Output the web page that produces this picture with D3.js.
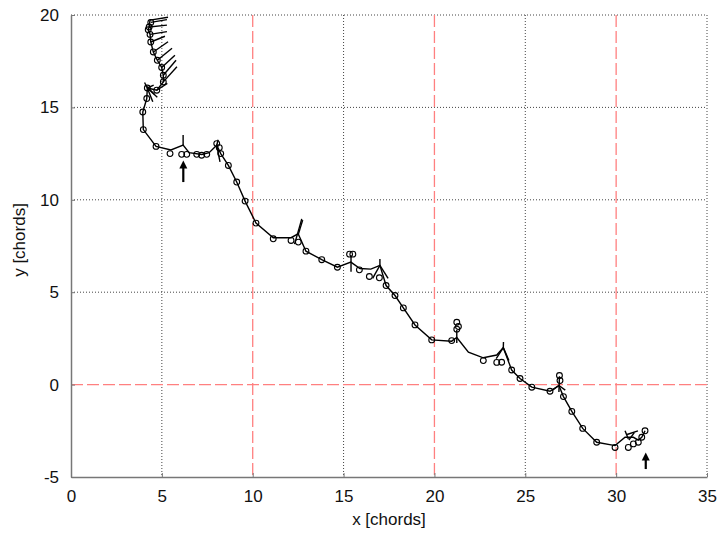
<!DOCTYPE html>
<html>
<head>
<meta charset="utf-8">
<script src="https://cdn.jsdelivr.net/npm/d3@7"></script>
<style>
	body { margin: 0; background: #fff; }
	text { font-family: "Liberation Sans", Arial, sans-serif; fill: #111; }
</style>
</head>
<body>
<svg id="track" width="718" height="533"></svg>
<script>
// axis ticks
const xTicks = [0, 5, 10, 15, 20, 25, 30, 35];
const yTicks = [-5, 0, 5, 10, 15, 20];
const redX = [10, 20, 30];
const redY = [0];

// vortex path (x, y in chords)
const pathPts = [
	[4.35, 19.75], [4.3, 19.35], [4.25, 19.2], [4.35, 18.95], [4.39, 18.54],
	[4.53, 18.0], [4.75, 17.55], [4.99, 17.16], [5.08, 16.74], [5.08, 16.38],
	[4.72, 15.93], [4.2, 16.05], [4.17, 15.48], [3.95, 14.75], [3.98, 13.8],
	[4.68, 12.89], [5.5, 12.7], [6.17, 12.96], [6.5, 12.55], [7.2, 12.45],
	[7.6, 12.55], [8.02, 12.95], [8.24, 12.5], [8.66, 11.86], [9.12, 10.96],
	[9.58, 9.93], [10.18, 8.74], [11.13, 7.95], [12.11, 7.95], [12.5, 8.16],
	[12.93, 7.22], [13.8, 6.76], [14.66, 6.35], [15.4, 6.63], [15.9, 6.28],
	[16.5, 6.25], [17.0, 6.45], [17.34, 5.36], [17.83, 4.82], [18.29, 4.15],
	[18.93, 3.23], [19.85, 2.42], [20.95, 2.35], [21.23, 2.55], [21.87, 1.75],
	[22.69, 1.45], [23.43, 1.6], [23.79, 2.0], [24.25, 0.79], [24.71, 0.33],
	[25.36, -0.14], [26.36, -0.36], [26.85, -0.05], [27.1, -0.65], [27.56, -1.45],
	[28.16, -2.37], [28.93, -3.12], [29.94, -3.3], [30.49, -2.85], [30.95, -2.85],
	[31.22, -3.0], [31.41, -2.85], [31.59, -2.5]
];

// sampled positions drawn as open circles
const circlePts = [
	[4.39, 19.6], [4.3, 19.35], [4.25, 19.2], [4.35, 18.95], [4.39, 18.54],
	[4.53, 18.0], [4.75, 17.55], [4.99, 17.16], [5.08, 16.74], [5.08, 16.38],
	[4.72, 15.93], [4.2, 16.05], [4.17, 15.48], [3.95, 14.75], [3.98, 13.8],
	[4.68, 12.89], [5.45, 12.5], [6.09, 12.46], [6.37, 12.46], [6.92, 12.46],
	[7.19, 12.41], [7.47, 12.46], [8.02, 13.04], [8.16, 12.82], [8.24, 12.5],
	[8.66, 11.86], [9.12, 10.96], [9.58, 9.93], [10.18, 8.74], [11.13, 7.89],
	[12.11, 7.8], [12.51, 7.71], [12.93, 7.22], [13.8, 6.76], [14.66, 6.35],
	[15.33, 7.06], [15.51, 7.06], [15.87, 6.21], [16.42, 5.85], [16.97, 5.78],
	[17.34, 5.36], [17.83, 4.82], [18.29, 4.15], [18.93, 3.23], [19.85, 2.42],
	[20.95, 2.38], [21.23, 3.37], [21.32, 3.14], [21.23, 3.0], [22.69, 1.3],
	[23.43, 1.2], [23.7, 1.21], [24.25, 0.79], [24.71, 0.33], [25.36, -0.14],
	[26.36, -0.36], [26.88, 0.49], [26.91, 0.22], [27.1, -0.65], [27.56, -1.45],
	[28.16, -2.37], [28.93, -3.12], [29.94, -3.4], [30.67, -3.4], [30.95, -3.21],
	[31.22, -3.12], [31.41, -2.85], [31.59, -2.5]
];

// short stick segments [x1, y1, x2, y2]
const whiskers = [
	[4.35, 19.72, 5.34, 19.88], [4.39, 19.6, 5.28, 19.75], [4.3, 19.35, 5.28, 19.45],
	[4.35, 18.95, 5.28, 19.1], [4.39, 18.54, 5.17, 18.85], [4.53, 18.0, 5.34, 18.55],
	[4.75, 17.55, 5.56, 18.2], [4.99, 17.16, 5.72, 17.82], [5.08, 16.74, 5.78, 17.55],
	[5.08, 16.38, 5.83, 17.2], [4.72, 15.93, 5.3, 16.3],
	[4.2, 16.05, 4.75, 15.55], [4.2, 16.05, 4.5, 15.3], [4.2, 16.05, 4.05, 16.35],
	[4.2, 16.05, 4.55, 16.2], [4.1, 16.2, 4.6, 15.7],
	[6.17, 12.96, 6.17, 13.5],
	[8.02, 12.95, 8.2, 12.05], [8.02, 12.95, 8.1, 13.25],
	[12.45, 8.1, 12.7, 8.97], [12.5, 8.1, 12.75, 8.9], [12.45, 8.1, 12.3, 7.6],
	[15.41, 7.0, 15.41, 6.1],
	[17.0, 6.45, 16.6, 5.75], [17.0, 6.45, 17.45, 5.75], [17.0, 6.45, 17.0, 6.8],
	[21.23, 2.95, 21.23, 2.25],
	[23.79, 2.0, 23.4, 1.4], [23.79, 2.0, 24.1, 1.3], [23.79, 2.0, 23.8, 2.3],
	[26.88, 0.45, 26.85, -0.4], [26.85, -0.05, 26.5, -0.3], [26.85, -0.05, 27.2, -0.3],
	[30.49, -2.5, 30.67, -2.95], [30.6, -2.7, 31.2, -2.5], [30.7, -3.0, 31.0, -2.6]
];

// upward arrows [x, yBase, yTip]
const arrows = [
	[6.18, 10.96, 12.13],
	[31.63, -4.57, -3.67]
];

const svg = d3.select("svg#track");
const margin = { left: 71, right: 11, top: 15, bottom: 56 };
const width = 718 - margin.left - margin.right;
const height = 533 - margin.top - margin.bottom;

const x = d3.scaleLinear().domain([0, 35]).range([0, width]);
const y = d3.scaleLinear().domain([-5, 20]).range([height, 0]);

const g = svg.append("g").attr("transform", `translate(${margin.left},${margin.top})`);

// black dotted grid
g.selectAll("line.gx")
	.data(xTicks.filter((d) => d > 0 && !redX.includes(d)))
	.join("line")
	.attr("x1", (d) => x(d)).attr("x2", (d) => x(d))
	.attr("y1", 0).attr("y2", height)
	.attr("stroke", "#444").attr("stroke-width", 1).attr("stroke-dasharray", "1,2");
g.selectAll("line.gy")
	.data(yTicks.filter((d) => d > -5 && !redY.includes(d)))
	.join("line")
	.attr("x1", 0).attr("x2", width)
	.attr("y1", (d) => y(d)).attr("y2", (d) => y(d))
	.attr("stroke", "#444").attr("stroke-width", 1).attr("stroke-dasharray", "1,2");

// red dashed reference lines
g.selectAll("line.rx")
	.data(redX)
	.join("line")
	.attr("x1", (d) => x(d)).attr("x2", (d) => x(d))
	.attr("y1", 0).attr("y2", height)
	.attr("stroke", "#ff8080").attr("stroke-width", 1.3).attr("stroke-dasharray", "12,4");
g.selectAll("line.ry")
	.data(redY)
	.join("line")
	.attr("x1", 0).attr("x2", width)
	.attr("y1", (d) => y(d)).attr("y2", (d) => y(d))
	.attr("stroke", "#ff8080").attr("stroke-width", 1.3).attr("stroke-dasharray", "12,4");

// axes
const fmt = (d) => String(d);
const xAxis = g.append("g")
	.attr("transform", `translate(0,${height})`)
	.call(d3.axisBottom(x).tickValues(xTicks).tickFormat(fmt).tickSizeInner(-4).tickSizeOuter(0).tickPadding(13));
const yAxis = g.append("g")
	.call(d3.axisLeft(y).tickValues(yTicks).tickFormat(fmt).tickSizeInner(-4).tickSizeOuter(0).tickPadding(12));
[xAxis, yAxis].forEach((a) => {
	a.select(".domain").attr("stroke", "#777").attr("stroke-width", 1.5);
	a.selectAll(".tick line").attr("stroke", "#777");
	a.selectAll(".tick text")
		.style("font-family", "'Liberation Sans', Arial, sans-serif")
		.style("font-size", "17px")
		.attr("fill", "#111");
});

// axis titles
svg.append("text")
	.attr("x", margin.left + width / 2)
	.attr("y", 525)
	.attr("text-anchor", "middle")
	.style("font-size", "17px")
	.text("x [chords]");
svg.append("text")
	.attr("transform", `translate(25,${margin.top + height / 2 - 6}) rotate(-90)`)
	.attr("text-anchor", "middle")
	.style("font-size", "17px")
	.text("y [chords]");

// trajectory line
const line = d3.line().x((d) => x(d[0])).y((d) => y(d[1]));
g.append("path")
	.datum(pathPts)
	.attr("d", line)
	.attr("fill", "none")
	.attr("stroke", "#000")
	.attr("stroke-width", 1.4);

// sticks
g.selectAll("line.whisker")
	.data(whiskers)
	.join("line")
	.attr("x1", (d) => x(d[0])).attr("y1", (d) => y(d[1]))
	.attr("x2", (d) => x(d[2])).attr("y2", (d) => y(d[3]))
	.attr("stroke", "#000")
	.attr("stroke-width", 1.4);

// sampled points
g.selectAll("circle.pt")
	.data(circlePts)
	.join("circle")
	.attr("cx", (d) => x(d[0]))
	.attr("cy", (d) => y(d[1]))
	.attr("r", 2.9)
	.attr("fill", "none")
	.attr("stroke", "#000")
	.attr("stroke-width", 1.1);

// arrows
arrows.forEach((a) => {
	const ax = x(a[0]), y0 = y(a[1]), y1 = y(a[2]);
	g.append("line")
		.attr("x1", ax).attr("x2", ax)
		.attr("y1", y0).attr("y2", y1 + 6)
		.attr("stroke", "#000").attr("stroke-width", 2.2);
	g.append("path")
		.attr("d", `M${ax},${y1} L${ax - 4},${y1 + 8} L${ax + 4},${y1 + 8} Z`)
		.attr("fill", "#000");
});
</script>
</body>
</html>
